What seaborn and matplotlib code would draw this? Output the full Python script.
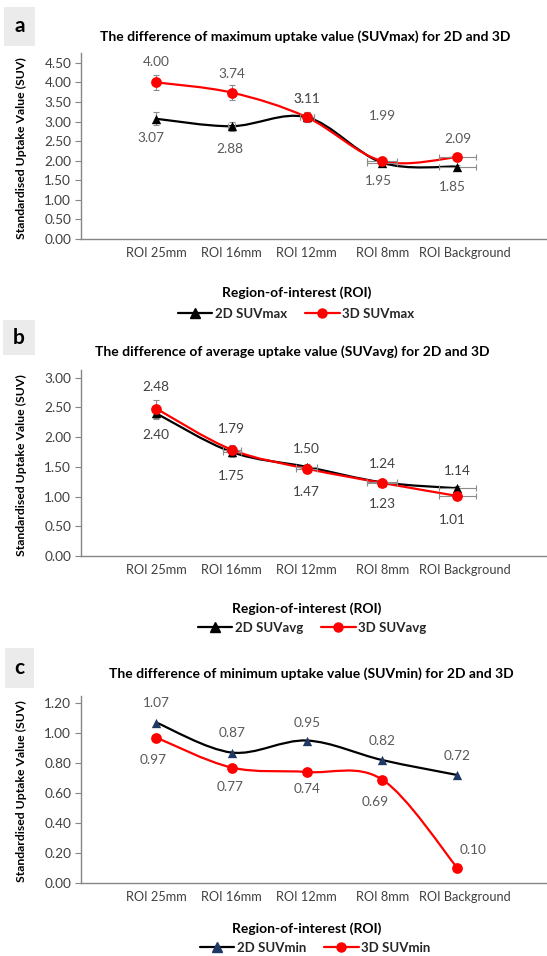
import numpy as np
import matplotlib
matplotlib.use("Agg")
import matplotlib.pyplot as plt
import matplotlib.transforms as mtransforms
import seaborn as sns
from matplotlib.path import Path
from matplotlib.patches import PathPatch, Rectangle
from matplotlib.lines import Line2D

# ---- data ----
rois = ["ROI 25mm", "ROI 16mm", "ROI 12mm", "ROI 8mm", "ROI Background"]

suvmax_2d = [3.07, 2.88, 3.11, 1.95, 1.85]
suvmax_3d = [4.00, 3.74, 3.11, 1.99, 2.09]
suvmax_2d_yerr = [0.17, 0.12, 0.13, 0.05, 0.05]
suvmax_3d_yerr = [0.19, 0.19, 0.13, 0.05, 0.05]
suvmax_xerr = [0.0, 0.05, 0.09, 0.2, 0.25]

suvavg_2d = [2.40, 1.75, 1.50, 1.24, 1.14]
suvavg_3d = [2.48, 1.79, 1.47, 1.23, 1.01]
suvavg_2d_yerr = [0.10, 0.08, 0.05, 0.04, 0.04]
suvavg_3d_yerr = [0.15, 0.08, 0.05, 0.04, 0.04]
suvavg_xerr = [0.0, 0.12, 0.14, 0.2, 0.25]

suvmin_2d = [1.07, 0.87, 0.95, 0.82, 0.72]
suvmin_3d = [0.97, 0.77, 0.74, 0.69, 0.10]

W, H = 547, 956
sns.set_theme(style="white")
plt.rcParams['font.family'] = ['Lato', 'DejaVu Sans']

fig = plt.figure(figsize=(W / 100, H / 100), dpi=100)


def fx(px):
    return px / W


def fy(py):
    return 1 - py / H


def smooth_path(xs, ys):
    # Excel style smoothed line (Catmull-Rom as cubic Bezier)
    pts = np.column_stack([xs, ys]).astype(float)
    n = len(pts)
    verts = [pts[0]]
    codes = [Path.MOVETO]
    for i in range(n - 1):
        p0 = pts[max(i - 1, 0)]
        p1 = pts[i]
        p2 = pts[i + 1]
        p3 = pts[min(i + 2, n - 1)]
        verts += [p1 + (p2 - p0) / 6, p2 - (p3 - p1) / 6, p2]
        codes += [Path.CURVE4] * 3
    return Path(verts, codes)


def panel(top_px, bot_px, ymax_val, ymax_ax, step, series, letter, box, title, title_x,
          title_y, xlab_xy, leg_xy, label_color, show_xticks=False):
    ax = fig.add_axes([fx(81), fy(bot_px), 1 - fx(81), (bot_px - top_px) / H])
    x = np.arange(len(rois))
    for s in series:
        ax.add_patch(PathPatch(smooth_path(x, s['y']), fill=False, edgecolor=s['line'],
                               lw=1.6, zorder=2, capstyle='round'))
        if s.get('yerr') is not None:
            ax.errorbar(x, s['y'], yerr=s['yerr'], xerr=s['xerr'], fmt='none',
                        ecolor='#8c8c8c', elinewidth=0.8, capsize=2.5, capthick=0.8, zorder=3)
        sns.scatterplot(x=x, y=s['y'], ax=ax, marker=s['marker'], color=s['mcolor'],
                        s=s['ms'], edgecolor=s['mcolor'], linewidth=0, zorder=4, legend=False)
        for xi, yi, off in zip(x, s['y'], s['offs']):
            ax.annotate(f"{yi:.2f}", (xi, yi), xytext=off, textcoords='offset pixels',
                        ha='center', va='center', fontsize=9.8, color=label_color)
    ax.set_xlim(-1, 5.19)
    ax.set_ylim(0, ymax_ax)
    ax.set_yticks(np.arange(0, ymax_val + step / 2, step))
    ax.set_yticklabels([f"{v:.2f}" for v in np.arange(0, ymax_val + step / 2, step)])
    if show_xticks:
        ax.set_xticks(np.arange(len(rois) + 1))
        ax.set_xticklabels(rois + [""])
        ax.tick_params(axis='x', length=3, width=0.8, color='#a6a6a6', pad=3)
    else:
        ax.set_xticks(x)
        ax.set_xticklabels(rois)
        ax.tick_params(axis='x', length=0, pad=6)
    ax.tick_params(axis='y', length=4, width=0.8, color='#868686', pad=3, left=True)
    ax.tick_params(axis='y', labelsize=9.8, labelcolor='#404040')
    ax.tick_params(axis='x', labelsize=9.2, labelcolor='#404040')
    # Excel nudges the long last category label to the right
    shift = mtransforms.ScaledTranslation(7 / 100, 0, fig.dpi_scale_trans)
    last = ax.get_xticklabels()[len(rois) - 1]
    last.set_transform(last.get_transform() + shift)
    for side in ['top', 'right']:
        ax.spines[side].set_visible(False)
    for side in ['left', 'bottom']:
        ax.spines[side].set_color('#868686')
        ax.spines[side].set_linewidth(1.0)
    ax.set_ylabel("Standardised Uptake Value (SUV)", fontsize=8.8, fontweight='bold', color='black')
    ax.yaxis.set_label_coords(fx(27), fy((top_px + bot_px) / 2 + 2), transform=fig.transFigure)
    ax.set_xlabel("Region-of-interest (ROI)", fontsize=10, fontweight='bold', color='black')
    ax.xaxis.set_label_coords(fx(xlab_xy[0]), fy(xlab_xy[1]), transform=fig.transFigure)
    ax.grid(False)

    fig.text(fx(title_x), fy(title_y), title, ha='center', va='center', fontsize=10,
             fontweight='bold', color='black')

    bx0, by0, bx1, by1 = box
    fig.patches.append(Rectangle((fx(bx0), fy(by1)), (bx1 - bx0) / W, (by1 - by0) / H,
                                 transform=fig.transFigure, facecolor='#ebebeb',
                                 edgecolor='none', zorder=0))
    fig.text(fx((bx0 + bx1) / 2), fy((by0 + by1) / 2), letter, ha='center', va='center',
             fontsize=15, fontweight='bold', color='black')

    handles = [Line2D([0], [0], color=s['line'], lw=1.6, marker=s['marker'],
                      markerfacecolor=s['mcolor'], markeredgecolor=s['mcolor'], markersize=6.5)
               for s in series]
    ax.legend(handles, [s['name'] for s in series], loc='center', ncol=2,
              bbox_to_anchor=(fx(leg_xy[0]), fy(leg_xy[1])), bbox_transform=fig.transFigure,
              frameon=False, prop={'weight': 'bold', 'size': 9.5}, handlelength=2.6,
              handletextpad=0.2, columnspacing=1.4, borderaxespad=0)
    return ax


# panel a
panel(53, 239, 4.5, 4.75, 0.5, [
    dict(name="2D SUVmax", y=suvmax_2d, yerr=suvmax_2d_yerr, xerr=suvmax_xerr, line='black',
         mcolor='black', marker='^', ms=45,
         offs=[(-5, -19), (-2, -23), (0, 18), (-4, -18), (-5, -20)]),
    dict(name="3D SUVmax", y=suvmax_3d, yerr=suvmax_3d_yerr, xerr=suvmax_xerr, line='#ff0000',
         mcolor='#ff0000', marker='o', ms=60,
         offs=[(0, 20), (0, 19), (0, 18), (0, 45), (0, 18)]),
], "a", (4, 7, 35, 46), "The difference of maximum uptake value (SUVmax) for 2D and 3D",
    305, 37, (297, 286), (296, 314), '#595959')

# panel b
panel(370, 556, 3.0, 3.13, 0.5, [
    dict(name="2D SUVavg", y=suvavg_2d, yerr=suvavg_2d_yerr, xerr=suvavg_xerr, line='black',
         mcolor='black', marker='^', ms=45,
         offs=[(0, -22), (0, -24), (0, 18), (0, 18), (0, 17)]),
    dict(name="3D SUVavg", y=suvavg_3d, yerr=suvavg_3d_yerr, xerr=suvavg_xerr, line='#ff0000',
         mcolor='#ff0000', marker='o', ms=60,
         offs=[(0, 22), (0, 21), (0, -23), (0, -21), (-5, -24)]),
], "b", (3, 320, 35, 355), "The difference of average uptake value (SUVavg) for 2D and 3D",
    292, 352, (307, 602), (312, 628), '#404040')

# panel c
panel(696, 883, 1.2, 1.247, 0.2, [
    dict(name="2D SUVmin", y=suvmin_2d, yerr=None, xerr=None, line='black',
         mcolor='#1f3864', marker='^', ms=45,
         offs=[(0, 20), (0, 20), (0, 18), (0, 19), (0, 19)]),
    dict(name="3D SUVmin", y=suvmin_3d, yerr=None, xerr=None, line='#ff0000',
         mcolor='#ff0000', marker='o', ms=60,
         offs=[(-3, -22), (-2, -19), (0, -17), (-7, -22), (16, 18)]),
], "c", (5, 648, 34, 688), "The difference of minimum uptake value (SUVmin) for 2D and 3D",
    311, 674, (307, 922), (315, 948), '#595959', show_xticks=True)

fig.savefig("out.png", dpi=100)
